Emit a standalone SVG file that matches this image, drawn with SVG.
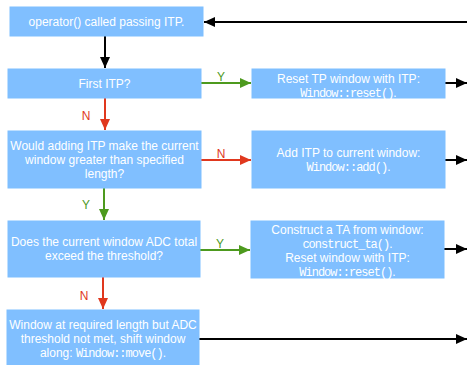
<svg xmlns="http://www.w3.org/2000/svg" width="467" height="365" viewBox="0 0 467 365">
<style>
.box{fill:#80BFFF;stroke:#7FBFFF;stroke-width:1}
.t{font-family:"Liberation Sans",Arial,sans-serif;font-size:12px;fill:#fff;text-anchor:middle}
.m{font-family:"Liberation Mono","Courier New",monospace;font-size:12px;letter-spacing:-1px}
.k{stroke:#000;stroke-width:2;fill:none}
.g{stroke:#4D9A1E;stroke-width:2;fill:none}
.r{stroke:#E0381E;stroke-width:2;fill:none}
.lg{font-family:"Liberation Sans",Arial,sans-serif;font-size:12px;fill:#4D9A1E;text-anchor:middle}
.lr{font-family:"Liberation Sans",Arial,sans-serif;font-size:12px;fill:#E0381E;text-anchor:middle}
</style>
<defs>
<marker id="ak" markerUnits="userSpaceOnUse" markerWidth="12" markerHeight="10" refX="11" refY="5" orient="auto"><path d="M0,0 L11,5 L0,10 z" fill="#000"/></marker>
<marker id="ag" markerUnits="userSpaceOnUse" markerWidth="12" markerHeight="10" refX="11" refY="5" orient="auto"><path d="M0,0 L11,5 L0,10 z" fill="#4D9A1E"/></marker>
<marker id="ar" markerUnits="userSpaceOnUse" markerWidth="12" markerHeight="10" refX="11" refY="5" orient="auto"><path d="M0,0 L11,5 L0,10 z" fill="#E0381E"/></marker>
</defs>
<g id="connectors">
<line class="k" x1="467" y1="22" x2="204" y2="22" marker-end="url(#ak)"/>
<line class="k" x1="105" y1="36" x2="105" y2="68" marker-end="url(#ak)"/>
<line class="g" x1="201" y1="83" x2="251" y2="83" marker-end="url(#ag)"/>
<line class="k" x1="445" y1="83" x2="467" y2="83" marker-end="url(#ak)"/>
<line class="r" x1="105" y1="98" x2="105" y2="130" marker-end="url(#ar)"/>
<line class="r" x1="201" y1="160" x2="251" y2="160" marker-end="url(#ar)"/>
<line class="k" x1="445" y1="160" x2="467" y2="160" marker-end="url(#ak)"/>
<line class="g" x1="104" y1="188" x2="104" y2="220" marker-end="url(#ag)"/>
<line class="g" x1="200" y1="250" x2="250" y2="250" marker-end="url(#ag)"/>
<line class="k" x1="444" y1="249" x2="467" y2="249" marker-end="url(#ak)"/>
<line class="r" x1="103" y1="277" x2="103" y2="309" marker-end="url(#ar)"/>
<line class="k" x1="199" y1="339" x2="467" y2="339" marker-end="url(#ak)"/>
<text class="lg" x="221" y="81">Y</text>
<text class="lr" x="86" y="120">N</text>
<text class="lr" x="221" y="158">N</text>
<text class="lg" x="86" y="209">Y</text>
<text class="lg" x="220" y="248">Y</text>
<text class="lr" x="84" y="300">N</text>
</g>
<g id="n1"><rect class="box" x="10" y="7" width="193" height="29"/><text class="t" x="106.5" y="26">operator() called passing ITP.</text></g>
<g id="n2"><rect class="box" x="8" y="69" width="193" height="29"/><text class="t" x="104.5" y="88">First ITP?</text></g>
<g id="n3"><rect class="box" x="252" y="69" width="193" height="29"/><text class="t" x="348.5" y="83">Reset TP window with ITP:</text><text class="t" x="348.5" y="97"><tspan class="m">Window::reset()</tspan>.</text></g>
<g id="n4"><rect class="box" x="8" y="131" width="193" height="57"/><text class="t" x="104.5" y="150">Would adding ITP make the current</text><text class="t" x="104.5" y="164">window greater than specified</text><text class="t" x="104.5" y="178">length?</text></g>
<g id="n5"><rect class="box" x="252" y="131" width="193" height="57"/><text class="t" x="348.5" y="157">Add ITP to current window:</text><text class="t" x="348.5" y="171"><tspan class="m">Window::add()</tspan>.</text></g>
<g id="n6"><rect class="box" x="8" y="221" width="192" height="56"/><text class="t" x="104" y="246">Does the current window ADC total</text><text class="t" x="104" y="260">exceed the threshold?</text></g>
<g id="n7"><rect class="box" x="251" y="221" width="193" height="57"/><text class="t" x="347.5" y="234">Construct a TA from window:</text><text class="t" x="347.5" y="248"><tspan class="m">construct_ta()</tspan>.</text><text class="t" x="347.5" y="262">Reset window with ITP:</text><text class="t" x="347.5" y="276"><tspan class="m">Window::reset()</tspan>.</text></g>
<g id="n8"><rect class="box" x="7" y="310" width="192" height="60"/><text class="t" x="103" y="329">Window at required length but ADC</text><text class="t" x="103" y="343">threshold not met, shift window</text><text class="t" x="103" y="357">along: <tspan class="m">Window::move()</tspan>.</text></g>
</svg>
